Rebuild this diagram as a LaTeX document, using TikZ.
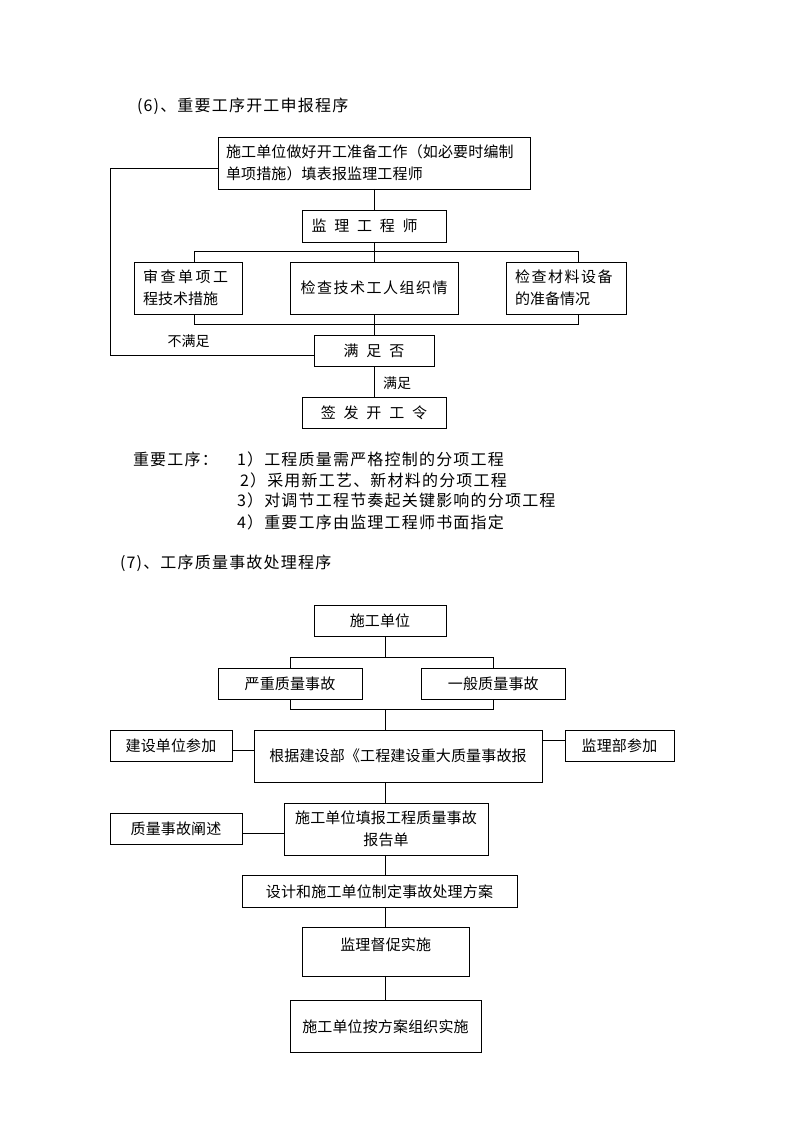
\documentclass[tikz,border=0pt]{standalone}
\usepackage{fontspec}
\setmainfont{Noto Sans CJK SC}
\newfontfamily\boxf[LetterSpace=1]{Noto Sans CJK SC}
\newfontfamily\bodyf[LetterSpace=7.5]{Noto Sans CJK SC}
\newfontfamily\midf[LetterSpace=10]{Noto Sans CJK SC}
\newfontfamily\widef[LetterSpace=17]{Noto Sans CJK SC}
\newfontfamily\plainf{Noto Sans CJK SC}
\newfontfamily\spacedf[LetterSpace=52]{Noto Sans CJK SC}
\begin{document}
\begin{tikzpicture}[x=1pt,y=-1pt,
  every node/.style={inner sep=0pt, outer sep=0pt},
  box/.style={draw, line width=0.8pt, font=\fontsize{15}{22}\selectfont\boxf},
  lbox/.style={box, align=left},
  cbox/.style={box, align=center},
  txt/.style={font=\fontsize{16}{20}\selectfont\bodyf, anchor=west},
  lbl/.style={font=\fontsize{14}{18}\selectfont\plainf},
  conn/.style={line width=0.8pt}]
\useasboundingbox (0,0) rectangle (794,1123);
\fill[white] (0,0) rectangle (794,1123);

% ---------- (6) ----------
\node[txt] (t6) at (137,106) {(6)、重要工序开工申报程序};

\node[lbox, text width=296pt, inner xsep=8pt, minimum width=312pt, minimum height=52pt] (b1) at (374,163)
  {施工单位做好开工准备工作（如必要时编制\\单项措施）填表报监理工程师};
\node[lbox, text width=125pt, inner xsep=9.5pt, minimum width=144pt, minimum height=32pt] (b2) at (374,226)
  {\spacedf 监理工程师};
\node[lbox, text width=90pt, inner xsep=9pt, minimum width=108pt, minimum height=52pt] (bA) at (188,288)
  {{\widef 审查单项工}\\{\plainf 程技术措施}};
\node[cbox, minimum width=168pt, minimum height=52pt] (bB) at (374,288)
  {\midf 检查技术工人组织情};
\node[lbox, text width=102pt, inner xsep=9pt, minimum width=120pt, minimum height=52pt] (bC) at (566,288)
  {{\midf 检查材料设备}\\{\plainf 的准备情况}};
\node[cbox, minimum width=120pt, minimum height=31pt] (bS) at (374,350.5)
  {\spacedf 满足否};
\node[cbox, minimum width=144pt, minimum height=31pt] (bQ) at (374,412.5)
  {\spacedf 签发开工令};

\node[lbl] (nl) at (188.5,340.7) {不满足};
\node[lbl] (yl) at (397,382.7) {满足};

\coordinate (barL) at (194.6,251.7);
\coordinate (barR) at (578,251.7);
\coordinate (lbarL) at (194.6,324);
\coordinate (lbarR) at (578,324);
\coordinate (fb1) at (110.7,355.3);
\coordinate (fb2) at (110.7,168.3);

\draw[conn] (b1.south) -- (b2.north);
\draw[conn] (b2.south) -- (bB.north);
\draw[conn] (bA.north -| barL) -- (barL) -- (barR) -- (bC.north -| barR);
\draw[conn] (bA.south -| lbarL) -- (lbarL) -- (lbarR) -- (bC.south -| lbarR);
\draw[conn] (bB.south) -- (bS.north);
\draw[conn] (bS.west |- fb1) -- (fb1) -- (fb2) -- (b1.west |- fb2);
\draw[conn] (bS.south) -- (bQ.north);

% ---------- list ----------
\node[txt] (imp) at (133,459) {重要工序：};
\node[txt] (i1) at (237,459) {1）工程质量需严格控制的分项工程};
\node[txt] (i2) at (240,480) {2）采用新工艺、新材料的分项工程};
\node[txt] (i3) at (237,500) {3）对调节工程节奏起关键影响的分项工程};
\node[txt] (i4) at (237,522) {4）重要工序由监理工程师书面指定};

% ---------- (7) ----------
\node[txt] (t7) at (120,563) {(7)、工序质量事故处理程序};

\node[cbox, minimum width=132pt, minimum height=31pt] (c1) at (380,620.5) {施工单位};
\node[cbox, minimum width=144pt, minimum height=31pt] (c2) at (290,683.5) {严重质量事故};
\node[cbox, minimum width=143.4pt, minimum height=31pt] (c3) at (493.3,683.5) {一般质量事故};
\node[cbox, minimum width=288pt, minimum height=52pt] (c4) at (398,756) {根据建设部《工程建设重大质量事故报};
\node[cbox, minimum width=122pt, minimum height=31pt] (c5) at (171,746.2) {建设单位参加};
\node[cbox, minimum width=109pt, minimum height=31pt] (c6) at (619.5,746.2) {监理部参加};
\node[cbox, minimum width=204pt, minimum height=52pt] (c7) at (386,829) {施工单位填报工程质量事故\\报告单};
\node[cbox, minimum width=132pt, minimum height=31pt] (c8) at (176,828.5) {质量事故阐述};
\node[cbox, minimum width=275pt, minimum height=31.6pt] (c9) at (379.5,891.5) {设计和施工单位制定事故处理方案};
\node[cbox, minimum width=167.4pt, minimum height=48.7pt] (c10) at (385.7,951.6) {监理督促实施\\[-7pt]\phantom{监}};
\node[cbox, minimum width=191pt, minimum height=51.3pt] (c11) at (385.5,1026.3) {施工单位按方案组织实施};

\coordinate (sp) at (385.7,0);
\coordinate (cb1) at (0,657);
\coordinate (cb2) at (0,709);
\coordinate (y1) at (0,750.7);
\coordinate (y2) at (0,740);
\coordinate (y3) at (0,833.7);

\draw[conn] (c1.south -| sp) -- (sp |- cb1);
\draw[conn] (c2.north) -- (c2.north |- cb1) -- (c3.north |- cb1) -- (c3.north);
\draw[conn] (c2.south) -- (c2.south |- cb2) -- (c3.south |- cb2) -- (c3.south);
\draw[conn] (sp |- cb2) -- (sp |- c4.north);
\draw[conn] (c5.east |- y1) -- (c4.west |- y1);
\draw[conn] (c4.east |- y2) -- (c6.west |- y2);
\draw[conn] (sp |- c4.south) -- (sp |- c7.north);
\draw[conn] (c8.east |- y3) -- (c7.west |- y3);
\draw[conn] (sp |- c7.south) -- (sp |- c9.north);
\draw[conn] (sp |- c9.south) -- (sp |- c10.north);
\draw[conn] (sp |- c10.south) -- (sp |- c11.north);
\end{tikzpicture}
\end{document}
